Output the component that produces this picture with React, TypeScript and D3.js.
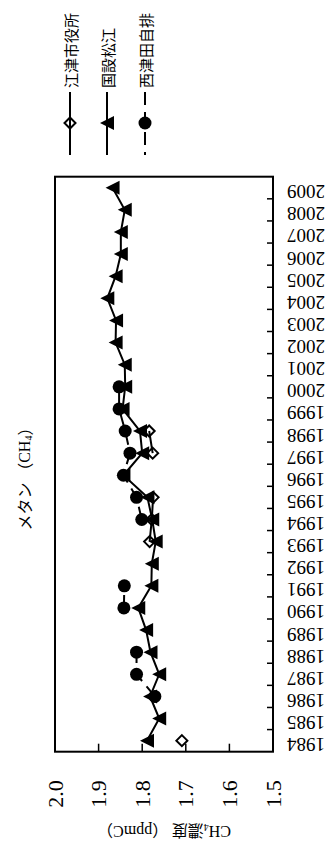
import React from "react";
import * as d3 from "d3";

const years = [1984,1985,1986,1987,1988,1989,1990,1991,1992,1993,1994,1995,1996,1997,1998,1999,2000,2001,2002,2003,2004,2005,2006,2007,2008,2009];
const gotsuCityHall: (number|null)[] = [1.709,null,null,null,null,null,null,null,null,1.783,1.778,1.775,null,1.776,1.784,null,null,null,null,null,null,null,null,null,null,null];
const matsueNational: (number|null)[] = [1.789,1.761,1.782,1.761,1.781,1.791,1.809,1.779,1.778,1.769,1.777,1.788,1.843,1.800,1.805,1.845,1.839,1.840,1.861,1.860,1.880,1.861,1.849,1.849,1.840,1.868];
const nishitsudaRoadside: (number|null)[] = [null,null,1.771,1.813,1.813,null,1.842,1.841,null,null,1.801,1.813,1.843,1.828,1.839,1.853,1.853,null,null,null,null,null,null,null,null,null];
const valueTicks = [2.0,1.9,1.8,1.7,1.6,1.5];
const seriesNames = ["江津市役所","国設松江","西津田自排"];

const W = 329, H = 844;
const L = 55, R = 273, T = 176.7, B = 751.7;
const FONT = "'Liberation Serif','Times New Roman','Noto Sans CJK JP',serif";
const CJK = "'Noto Sans CJK JP','Liberation Serif',sans-serif";

const triPath = (x:number,y:number,s=7)=>`M${x-s},${y}L${x+s},${y-s}L${x+s},${y+s}Z`;
const diaPath = (x:number,y:number,s=5.5)=>`M${x},${y-s}L${x+s},${y}L${x},${y+s}L${x-s},${y}Z`;

export default function App(){
  const yb = d3.scaleBand<number>().domain(years.slice().reverse()).range([T,B]).padding(0);
  const bw = yb.bandwidth();
  const yc = (yr:number)=> (yb(yr) as number) + bw/2;
  const x = d3.scaleLinear().domain([2.0,1.5]).range([L,R]);
  const mk = (vals:(number|null)[]) => years.map((yr,i)=>({yr, v: vals[i]}));
  const line = d3.line<{yr:number,v:number|null}>().defined(d=>d.v!=null).x(d=>x(d.v as number)).y(d=>yc(d.yr));
  const s1 = mk(gotsuCityHall), s2 = mk(matsueNational), s3 = mk(nishitsudaRoadside);
  const legX = [70,107,145];
  const legY = 123;
  return (
    <svg width={W} height={H} style={{position:"absolute",left:0,top:0,background:"#fff"}}>
      <rect x={0} y={0} width={W} height={H} fill="#fff"/>
      {/* title */}
      <text transform={`translate(24,475) rotate(-90)`} textAnchor="middle" dominantBaseline="central" fontFamily={CJK} fontSize={16}>
        メタン （<tspan fontFamily={FONT}>CH</tspan><tspan fontFamily={FONT} fontSize={10} dy={4}>4</tspan><tspan dy={-4}>）</tspan>
      </text>
      {/* legend */}
      {seriesNames.map((n,i)=>(
        <g key={n}>
          <text transform={`translate(${legX[i]},88) rotate(-90)`} textAnchor="start" dominantBaseline="central" fontFamily={CJK} fontSize={15}>{n}</text>
          <line x1={legX[i]} x2={legX[i]} y1={92} y2={155} stroke="#000" strokeWidth={2} strokeDasharray={i===2?"13,7":undefined}/>
          {i===0 && <path d={diaPath(legX[i],legY)} fill="none" stroke="#000" strokeWidth={2}/>}
          {i===1 && <path d={triPath(legX[i],legY)} fill="#000"/>}
          {i===2 && <circle cx={legX[i]} cy={legY} r={6.5} fill="#000"/>}
        </g>
      ))}
      {/* plot frame */}
      <rect x={L} y={T} width={R-L} height={B-T} fill="none" stroke="#000" strokeWidth={2}/>
      {valueTicks.slice(1,-1).map(v=>(
        <line key={v} x1={x(v)} x2={x(v)} y1={B} y2={B-8} stroke="#000" strokeWidth={1.5}/>
      ))}
      {years.slice(1).map((yr,i)=>{
        const yy = T + (i+1)*bw;
        return <line key={yr} x1={R} x2={R-6} y1={yy} y2={yy} stroke="#000" strokeWidth={1.5}/>;
      })}
      {/* value tick labels */}
      {valueTicks.map(v=>(
        <text key={v} transform={`translate(${x(v)},794) rotate(-90)`} textAnchor="middle" dominantBaseline="central" fontFamily={FONT} fontSize={22}>{v.toFixed(1)}</text>
      ))}
      {/* year labels */}
      {years.map(yr=>(
        <text key={yr} transform={`translate(${R+52},${yc(yr)+4}) rotate(180)`} textAnchor="start" dominantBaseline="central" fontFamily={FONT} fontSize={19}>{yr}</text>
      ))}
      {/* axis title */}
      <text transform={`translate(164,832) rotate(180)`} textAnchor="middle" dominantBaseline="central" fontFamily={CJK} fontSize={16}>
        <tspan fontFamily={FONT}>CH</tspan><tspan fontFamily={FONT} fontSize={10} dy={4}>4</tspan><tspan dy={-4}>濃度 （</tspan><tspan fontFamily={FONT}>ppmC</tspan>）
      </text>
      {/* series */}
      <path d={line(s1) || ""} fill="none" stroke="#000" strokeWidth={2}/>
      {s1.filter(d=>d.v!=null).map(d=>(
        <path key={d.yr} d={diaPath(x(d.v as number), yc(d.yr))} fill="none" stroke="#000" strokeWidth={2}/>
      ))}
      <path d={line(s2) || ""} fill="none" stroke="#000" strokeWidth={2}/>
      {s2.filter(d=>d.v!=null).map(d=>(
        <path key={d.yr} d={triPath(x(d.v as number), yc(d.yr))} fill="#000"/>
      ))}
      <path d={line(s3) || ""} fill="none" stroke="#000" strokeWidth={2} strokeDasharray="13,7"/>
      {s3.filter(d=>d.v!=null).map(d=>(
        <circle key={d.yr} cx={x(d.v as number)} cy={yc(d.yr)} r={6.5} fill="#000"/>
      ))}
    </svg>
  );
}
